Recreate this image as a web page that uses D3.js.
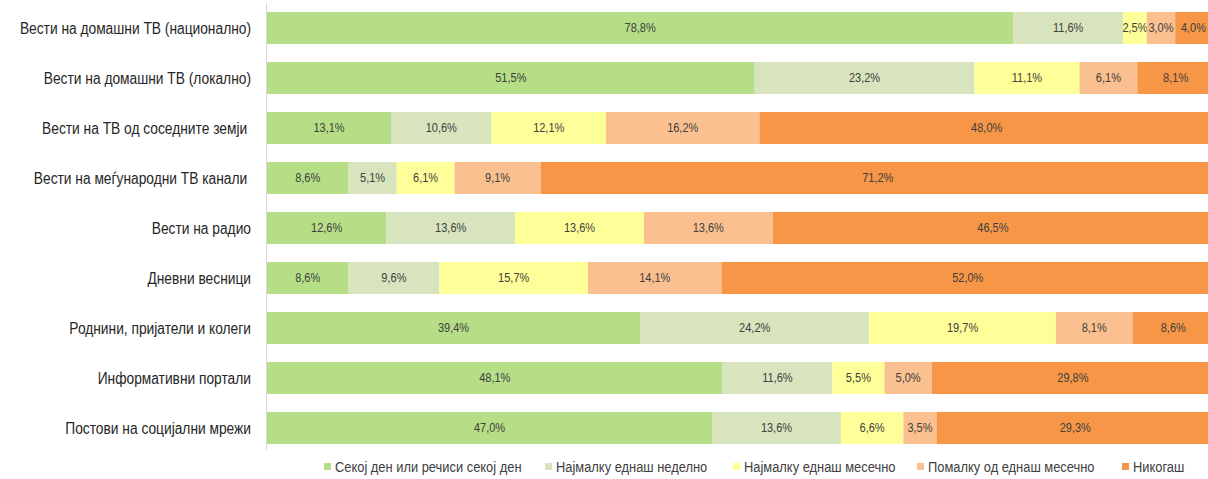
<!DOCTYPE html>
<html>
<head>
<meta charset="utf-8">
<script src="https://cdn.jsdelivr.net/npm/d3@7"></script>
<style>
  body { margin: 0; background: #fff; }
  svg { font-family: "Liberation Sans Narrow", "Arial Narrow", "Liberation Sans", sans-serif; }
  .cat { white-space: pre; }
</style>
</head>
<body>
<div id="chart"></div>
<script>
const categories = [
  'Вести на домашни ТВ (национално)',
  'Вести на домашни ТВ (локално)',
  'Вести на ТВ од соседните земји ',
  'Вести на меѓународни ТВ канали ',
  'Вести на радио',
  'Дневни весници',
  'Роднини, пријатели и колеги',
  'Информативни портали',
  'Постови на социјални мрежи'
];
const seriesNames = [
  'Секој ден или речиси секој ден',
  'Најмалку еднаш неделно',
  'Најмалку еднаш месечно',
  'Помалку од еднаш месечно',
  'Никогаш'
];
const seriesColors = ['#B5DE86', '#D7E4BD', '#FFFF99', '#FAC090', '#F79646'];
const daily   = [78.8, 51.5, 13.1, 8.6, 12.6, 8.6, 39.4, 48.1, 47.0];
const weekly  = [11.6, 23.2, 10.6, 5.1, 13.6, 9.6, 24.2, 11.6, 13.6];
const monthly = [2.5, 11.1, 12.1, 6.1, 13.6, 15.7, 19.7, 5.5, 6.6];
const rarely  = [3.0, 6.1, 16.2, 9.1, 13.6, 14.1, 8.1, 5.0, 3.5];
const never   = [4.0, 8.1, 48.0, 71.2, 46.5, 52.0, 8.6, 29.8, 29.3];
const seriesValues = [daily, weekly, monthly, rarely, never];

const width = 1208, height = 479;
const svg = d3.select('#chart').append('svg')
  .attr('width', width).attr('height', height);

const x = d3.scaleLinear().domain([0, 100]).range([267, 1214]);
const y = d3.scaleBand().domain(categories).range([3, 453])
  .paddingInner(0.36).paddingOuter(0.18);

// build stacked rows
const rows = categories.map((c, i) => {
  const r = { cat: c };
  seriesNames.forEach((s, j) => { r[s] = seriesValues[j][i]; });
  return r;
});
const stack = d3.stack().keys(seriesNames)(rows);

const fmt = v => v.toFixed(1).replace('.', ',') + '%';

// squeeze text horizontally to imitate a narrow font
function condense(sel, k) {
  sel.each(function() {
    const w = this.getComputedTextLength();
    d3.select(this).attr('textLength', w * k).attr('lengthAdjust', 'spacingAndGlyphs');
  });
}

const groups = svg.append('g').selectAll('g')
  .data(stack).enter().append('g')
  .attr('fill', (d, i) => seriesColors[i]);

groups.selectAll('rect')
  .data(d => d)
  .enter().append('rect')
  .attr('x', d => x(d[0]))
  .attr('y', d => y(d.data.cat))
  .attr('width', d => x(d[1]) - x(d[0]))
  .attr('height', y.bandwidth());

groups.selectAll('text')
  .data(d => d.map(p => ({ p: p, key: d.key })))
  .enter().append('text')
  .attr('x', d => (x(d.p[0]) + x(d.p[1])) / 2)
  .attr('y', d => y(d.p.data.cat) + y.bandwidth() / 2)
  .attr('dy', '0.35em')
  .attr('text-anchor', 'middle')
  .attr('fill', '#404040')
  .attr('font-size', 12.5)
  .text(d => fmt(d.p.data[d.key]))
  .call(condense, 0.88)
  .each(function() {
    // keep labels inside the visible area
    const half = this.getComputedTextLength() / 2;
    const cx = +this.getAttribute('x');
    if (cx + half > width - 2) d3.select(this).attr('x', width - 2 - half);
  });

// axis line
svg.append('line')
  .attr('x1', 266.5).attr('x2', 266.5)
  .attr('y1', 3).attr('y2', 450)
  .attr('stroke', '#d9d9d9').attr('stroke-width', 1);

// category labels
svg.append('g').selectAll('text')
  .data(categories).enter().append('text')
  .attr('class', 'cat')
  .attr('x', 251)
  .attr('y', d => y(d) + y.bandwidth() / 2)
  .attr('dy', '0.35em')
  .attr('text-anchor', 'end')
  .attr('fill', '#262626')
  .attr('font-size', 16)
  .text(d => d)
  .call(condense, 0.86);

// legend
const legendX = [324, 545, 733, 917, 1122];
const legend = svg.append('g').selectAll('g')
  .data(seriesNames).enter().append('g')
  .attr('transform', (d, i) => `translate(${legendX[i]},467)`);
legend.append('rect')
  .attr('x', 0).attr('y', -4)
  .attr('width', 7).attr('height', 7)
  .attr('fill', (d, i) => seriesColors[i]);
legend.append('text')
  .attr('x', 11).attr('y', 0)
  .attr('dy', '0.35em')
  .attr('fill', '#404040')
  .attr('font-size', 14)
  .text(d => d)
  .call(condense, 0.92);
</script>
</body>
</html>
